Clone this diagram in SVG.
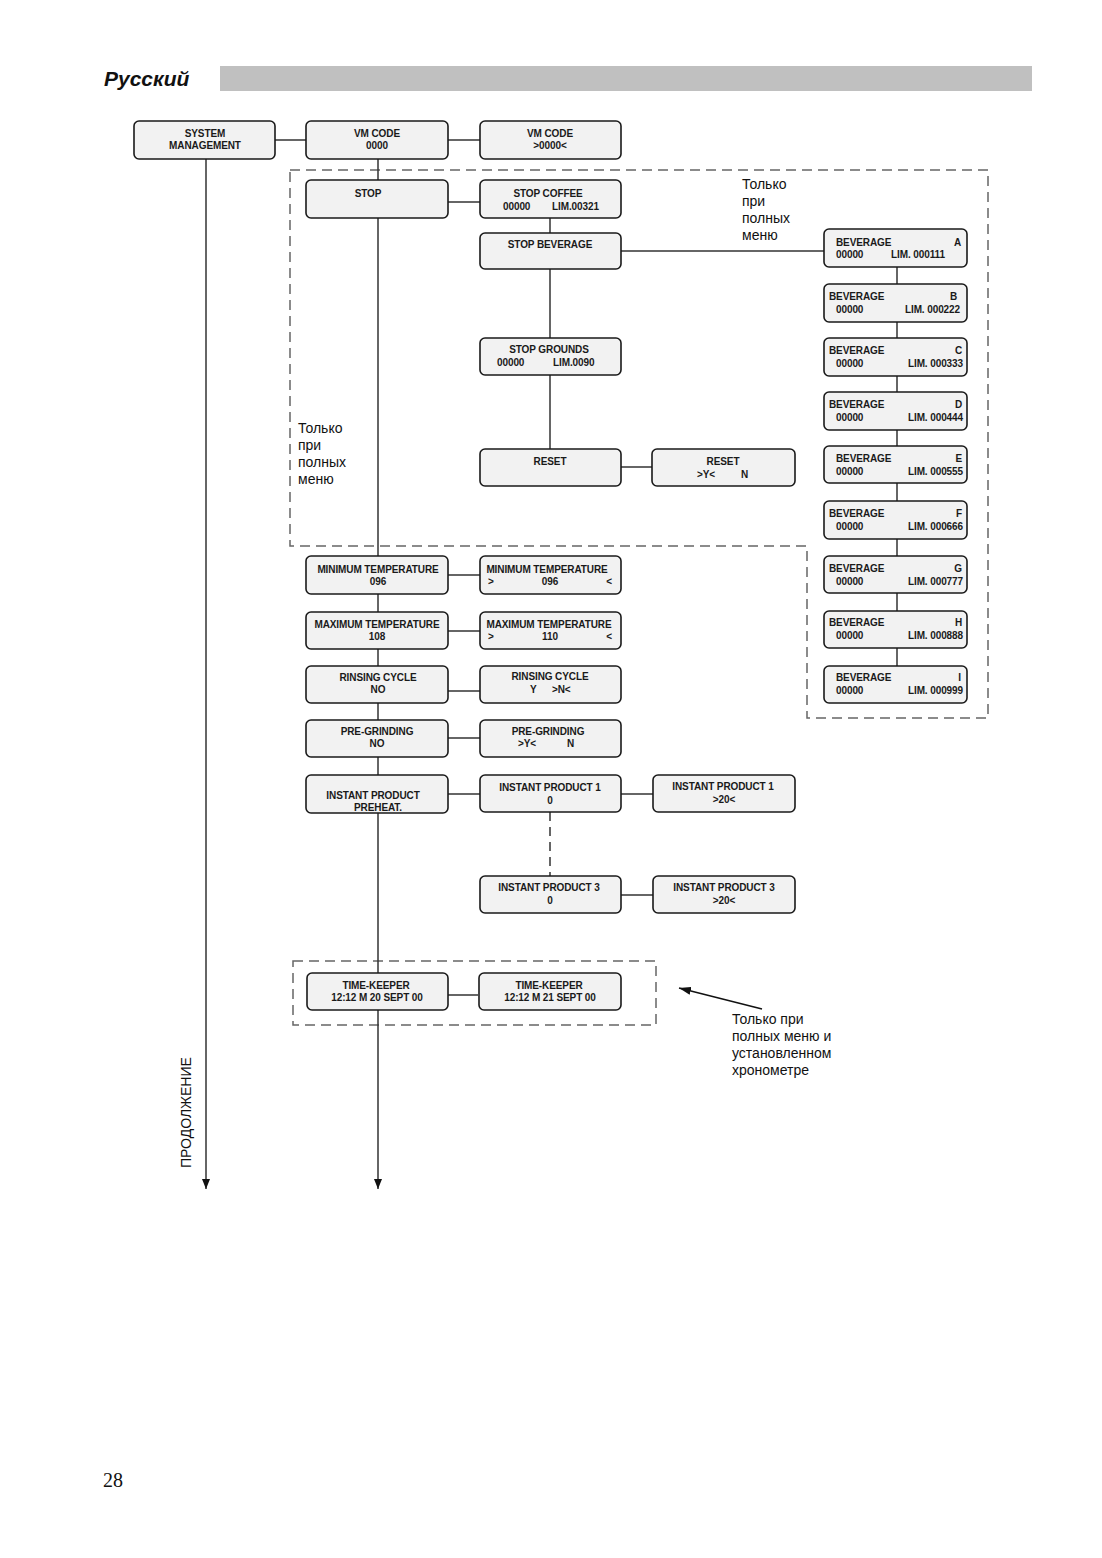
<svg xmlns="http://www.w3.org/2000/svg" width="1102" height="1558" viewBox="0 0 1102 1558">
<style>
.n{fill:#f2f2f2;stroke:#1a1a1a;stroke-width:1.6}
.t{font-family:"Liberation Sans",Arial,sans-serif;font-size:10px;font-weight:bold;fill:#1a1a1a;letter-spacing:-0.1px}
.c{text-anchor:middle}
.r{text-anchor:end}
.ln{stroke:#333;stroke-width:1.5;fill:none}
.dash{stroke:#666;stroke-width:1.5;fill:none;stroke-dasharray:10 6}
.note{font-family:"Liberation Sans",Arial,sans-serif;font-size:14px;fill:#111}
</style>
<defs>
<marker id="ah" viewBox="0 0 10 8" refX="10" refY="4" markerWidth="10" markerHeight="8" markerUnits="userSpaceOnUse" orient="auto">
<path d="M0,0 L10,4 L0,8 Z" fill="#111"/>
</marker>
<marker id="an" viewBox="0 0 12 8" refX="12" refY="4" markerWidth="12" markerHeight="8" markerUnits="userSpaceOnUse" orient="auto">
<path d="M0,0 L12,4 L0,8 Z" fill="#111"/>
</marker>
</defs>
<rect width="1102" height="1558" fill="#fff"/>

<!-- header -->
<text x="104" y="86" font-family="Liberation Sans,Arial,sans-serif" font-size="21" font-weight="bold" font-style="italic" fill="#111">Русский</text>
<rect x="220" y="66" width="812" height="25" fill="#c0c0c0"/>

<!-- dashed regions -->
<polygon class="dash" points="290,170 988,170 988,718 807,718 807,546 290,546"/>
<rect class="dash" x="293" y="961" width="363" height="64"/>

<!-- connectors -->
<g id="connectors">
<line class="ln" x1="206" y1="159" x2="206" y2="1189" marker-end="url(#ah)"/>
<line class="ln" x1="378" y1="159" x2="378" y2="1189" marker-end="url(#ah)"/>
<line class="ln" x1="275" y1="140" x2="306" y2="140"/>
<line class="ln" x1="448" y1="140" x2="480" y2="140"/>
<line class="ln" x1="448" y1="202" x2="480" y2="202"/>
<line class="ln" x1="550" y1="218" x2="550" y2="233"/>
<line class="ln" x1="621" y1="251" x2="824" y2="251"/>
<line class="ln" x1="550" y1="269" x2="550" y2="338"/>
<line class="ln" x1="550" y1="375" x2="550" y2="449"/>
<line class="ln" x1="621" y1="467" x2="652" y2="467"/>
<line class="ln" x1="897" y1="267" x2="897" y2="666"/>
<line class="ln" x1="448" y1="575" x2="480" y2="575"/>
<line class="ln" x1="448" y1="631" x2="480" y2="631"/>
<line class="ln" x1="448" y1="691" x2="480" y2="691"/>
<line class="ln" x1="448" y1="738" x2="480" y2="738"/>
<line class="ln" x1="448" y1="794" x2="480" y2="794"/>
<line class="ln" x1="621" y1="794" x2="653" y2="794"/>
<line class="ln" x1="550" y1="812" x2="550" y2="876" stroke-dasharray="9 6"/>
<line class="ln" x1="621" y1="895" x2="653" y2="895"/>
<line class="ln" x1="448" y1="995" x2="478" y2="995"/>
<line x1="762" y1="1009" x2="679" y2="988" stroke="#111" stroke-width="1.5" marker-end="url(#an)"/>
</g>

<!-- nodes -->
<g id="sysman"><rect class="n" x="134" y="121" width="141" height="38" rx="5"/>
<text class="t c" x="205" y="137">SYSTEM</text><text class="t c" x="205" y="149">MANAGEMENT</text></g>
<g id="vmcode"><rect class="n" x="306" y="121" width="142" height="38" rx="5"/>
<text class="t c" x="377" y="137">VM CODE</text><text class="t c" x="377" y="149">0000</text></g>
<g id="vmcode2"><rect class="n" x="480" y="121" width="141" height="38" rx="5"/>
<text class="t c" x="550" y="137">VM CODE</text><text class="t c" x="550" y="149">&gt;0000&lt;</text></g>

<g id="stop"><rect class="n" x="306" y="180" width="142" height="38" rx="5"/>
<text class="t c" x="368" y="197">STOP</text></g>
<g id="stopcoffee"><rect class="n" x="480" y="180" width="141" height="38" rx="5"/>
<text class="t c" x="548" y="197">STOP COFFEE</text><text class="t" x="503" y="210">00000</text><text class="t" x="552" y="210">LIM.00321</text></g>
<g id="stopbev"><rect class="n" x="480" y="233" width="141" height="36" rx="5"/>
<text class="t c" x="550" y="248">STOP BEVERAGE</text></g>
<g id="stopgrounds"><rect class="n" x="480" y="338" width="141" height="37" rx="5"/>
<text class="t c" x="549" y="353">STOP GROUNDS</text><text class="t" x="497" y="366">00000</text><text class="t" x="553" y="366">LIM.0090</text></g>
<g id="reset"><rect class="n" x="480" y="449" width="141" height="37" rx="5"/>
<text class="t c" x="550" y="465">RESET</text></g>
<g id="reset2"><rect class="n" x="652" y="449" width="143" height="37" rx="5"/>
<text class="t c" x="723" y="465">RESET</text><text class="t" x="697" y="478">&gt;Y&lt;</text><text class="t" x="741" y="478">N</text></g>

<g id="bevA"><rect class="n" x="824" y="229" width="143" height="38" rx="5"/>
<text class="t" x="836" y="246">BEVERAGE</text><text class="t r" x="961" y="246">A</text><text class="t" x="836" y="258">00000</text><text class="t" x="891" y="258">LIM. 000111</text></g>
<g id="bevB"><rect class="n" x="824" y="284" width="143" height="38" rx="5"/>
<text class="t" x="829" y="300">BEVERAGE</text><text class="t r" x="957" y="300">B</text><text class="t" x="836" y="313">00000</text><text class="t r" x="960" y="313">LIM. 000222</text></g>
<g id="bevC"><rect class="n" x="824" y="338" width="143" height="38" rx="5"/>
<text class="t" x="829" y="354">BEVERAGE</text><text class="t r" x="962" y="354">C</text><text class="t" x="836" y="367">00000</text><text class="t r" x="963" y="367">LIM. 000333</text></g>
<g id="bevD"><rect class="n" x="824" y="392" width="143" height="38" rx="5"/>
<text class="t" x="829" y="408">BEVERAGE</text><text class="t r" x="962" y="408">D</text><text class="t" x="836" y="421">00000</text><text class="t r" x="963" y="421">LIM. 000444</text></g>
<g id="bevE"><rect class="n" x="824" y="446" width="143" height="37" rx="5"/>
<text class="t" x="836" y="462">BEVERAGE</text><text class="t r" x="962" y="462">E</text><text class="t" x="836" y="475">00000</text><text class="t r" x="963" y="475">LIM. 000555</text></g>
<g id="bevF"><rect class="n" x="824" y="501" width="143" height="38" rx="5"/>
<text class="t" x="829" y="517">BEVERAGE</text><text class="t r" x="962" y="517">F</text><text class="t" x="836" y="530">00000</text><text class="t r" x="963" y="530">LIM. 000666</text></g>
<g id="bevG"><rect class="n" x="824" y="556" width="143" height="37" rx="5"/>
<text class="t" x="829" y="572">BEVERAGE</text><text class="t r" x="962" y="572">G</text><text class="t" x="836" y="585">00000</text><text class="t r" x="963" y="585">LIM. 000777</text></g>
<g id="bevH"><rect class="n" x="824" y="611" width="143" height="37" rx="5"/>
<text class="t" x="829" y="626">BEVERAGE</text><text class="t r" x="962" y="626">H</text><text class="t" x="836" y="639">00000</text><text class="t r" x="963" y="639">LIM. 000888</text></g>
<g id="bevI"><rect class="n" x="824" y="666" width="143" height="37" rx="5"/>
<text class="t" x="836" y="681">BEVERAGE</text><text class="t r" x="961" y="681">I</text><text class="t" x="836" y="694">00000</text><text class="t r" x="963" y="694">LIM. 000999</text></g>

<g id="mintemp"><rect class="n" x="306" y="556" width="142" height="38" rx="5"/>
<text class="t c" x="378" y="573">MINIMUM TEMPERATURE</text><text class="t c" x="378" y="585">096</text></g>
<g id="mintemp2"><rect class="n" x="480" y="556" width="141" height="38" rx="5"/>
<text class="t c" x="547" y="573">MINIMUM TEMPERATURE</text><text class="t" x="488" y="585">&gt;</text><text class="t c" x="550" y="585">096</text><text class="t r" x="612" y="585">&lt;</text></g>
<g id="maxtemp"><rect class="n" x="306" y="612" width="142" height="37" rx="5"/>
<text class="t c" x="377" y="628">MAXIMUM TEMPERATURE</text><text class="t c" x="377" y="640">108</text></g>
<g id="maxtemp2"><rect class="n" x="480" y="612" width="141" height="37" rx="5"/>
<text class="t c" x="549" y="628">MAXIMUM TEMPERATURE</text><text class="t" x="488" y="640">&gt;</text><text class="t c" x="550" y="640">110</text><text class="t r" x="612" y="640">&lt;</text></g>
<g id="rinsing"><rect class="n" x="306" y="666" width="142" height="37" rx="5"/>
<text class="t c" x="378" y="681">RINSING CYCLE</text><text class="t c" x="378" y="693">NO</text></g>
<g id="rinsing2"><rect class="n" x="480" y="666" width="141" height="37" rx="5"/>
<text class="t c" x="550" y="680">RINSING CYCLE</text><text class="t" x="530" y="693">Y</text><text class="t" x="552" y="693">&gt;N&lt;</text></g>
<g id="pregrind"><rect class="n" x="306" y="720" width="142" height="37" rx="5"/>
<text class="t c" x="377" y="735">PRE-GRINDING</text><text class="t c" x="377" y="747">NO</text></g>
<g id="pregrind2"><rect class="n" x="480" y="720" width="141" height="37" rx="5"/>
<text class="t c" x="548" y="735">PRE-GRINDING</text><text class="t" x="518" y="747">&gt;Y&lt;</text><text class="t" x="567" y="747">N</text></g>
<g id="ippreheat"><rect class="n" x="306" y="775" width="142" height="38" rx="5"/>
<text class="t c" x="373" y="799">INSTANT PRODUCT</text><text class="t c" x="378" y="811">PREHEAT.</text></g>
<g id="ip1"><rect class="n" x="480" y="775" width="141" height="37" rx="5"/>
<text class="t c" x="550" y="791">INSTANT PRODUCT 1</text><text class="t c" x="550" y="804">0</text></g>
<g id="ip1b"><rect class="n" x="653" y="775" width="142" height="37" rx="5"/>
<text class="t c" x="723" y="790">INSTANT PRODUCT 1</text><text class="t c" x="724" y="803">&gt;20&lt;</text></g>
<g id="ip3"><rect class="n" x="480" y="876" width="141" height="37" rx="5"/>
<text class="t c" x="549" y="891">INSTANT PRODUCT  3</text><text class="t c" x="550" y="904">0</text></g>
<g id="ip3b"><rect class="n" x="653" y="876" width="142" height="37" rx="5"/>
<text class="t c" x="724" y="891">INSTANT PRODUCT  3</text><text class="t c" x="724" y="904">&gt;20&lt;</text></g>
<g id="tk"><rect class="n" x="307" y="973" width="141" height="37" rx="5"/>
<text class="t c" x="376" y="989">TIME-KEEPER</text><text class="t c" x="377" y="1001">12:12 M 20 SEPT 00</text></g>
<g id="tk2"><rect class="n" x="479" y="973" width="142" height="37" rx="5"/>
<text class="t c" x="549" y="989">TIME-KEEPER</text><text class="t c" x="550" y="1001">12:12 M 21 SEPT 00</text></g>

<!-- notes -->
<text class="note" x="742" y="189">Только</text>
<text class="note" x="742" y="206">при</text>
<text class="note" x="742" y="223">полных</text>
<text class="note" x="742" y="240">меню</text>
<text class="note" x="298" y="433">Только</text>
<text class="note" x="298" y="450">при</text>
<text class="note" x="298" y="467">полных</text>
<text class="note" x="298" y="484">меню</text>
<text class="note" x="732" y="1024">Только при</text>
<text class="note" x="732" y="1041">полных меню и</text>
<text class="note" x="732" y="1058">установленном</text>
<text class="note" x="732" y="1075">хронометре</text>
<text class="note" transform="translate(191,1168) rotate(-90)">ПРОДОЛЖЕНИЕ</text>
<text x="103" y="1487" font-family="Liberation Serif,Times New Roman,serif" font-size="20" fill="#111">28</text>
</svg>
